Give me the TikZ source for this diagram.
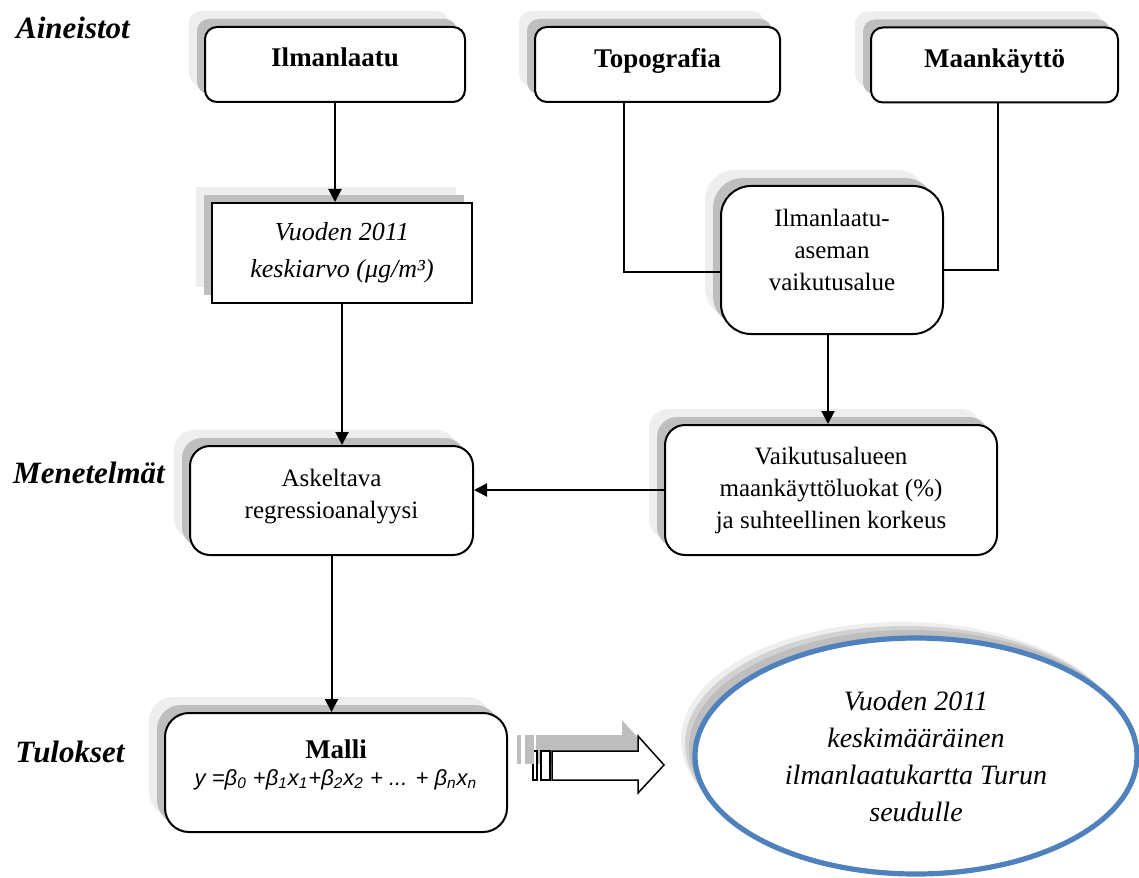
\documentclass[tikz,border=0pt]{standalone}
\usepackage{fontspec}
\setmainfont{Liberation Serif}
\newfontfamily\kaavafont{Liberation Sans}
\usetikzlibrary{arrows.meta,shapes.geometric,shadows,positioning}

\definecolor{varjotumma}{RGB}{190,190,190}
\definecolor{varjovaalea}{RGB}{238,238,238}
\definecolor{reunasininen}{RGB}{79,129,189}

\tikzset{
  varjot/.style={general shadow={fill=varjovaalea, shadow xshift=-8pt, shadow yshift=8pt},
                 general shadow={fill=varjotumma, shadow xshift=-4pt, shadow yshift=4pt}},
  laatikko/.style={draw, line width=1pt, fill=white, align=center, varjot,
                   font=\fontsize{12.5}{16}\selectfont},
  ylaosa/.style={laatikko, rounded corners=6pt, minimum height=37.5pt, text depth=7pt,
                 font=\fontsize{13.5}{16}\selectfont\bfseries},
  otsikko/.style={font=\fontsize{15.5}{18}\selectfont\bfseries\itshape},
  kartta/.style={ellipse, draw=reunasininen, line width=2.6pt, fill=white, align=center,
                 minimum width=221pt, minimum height=118pt,
                 general shadow={fill=varjovaalea, shadow xshift=-7pt, shadow yshift=8pt},
                 general shadow={fill=black!18, shadow xshift=-5pt, shadow yshift=6pt},
                 general shadow={fill=varjotumma, shadow xshift=-3pt, shadow yshift=4pt},
                 font=\fontsize{14}{18.5}\selectfont\itshape},
  viiva/.style={line width=1pt},
  pijlviiva/.style={line width=0.75pt, fill=white,
                    general shadow={fill=varjotumma, shadow xshift=-8pt, shadow yshift=8pt}}
}

\begin{document}
\begin{tikzpicture}[x=0.5pt, y=-0.5pt, >={Triangle[length=6.5pt,width=6.5pt]}]
  \useasboundingbox (0,0) rectangle (1139,877);
  % vaiheet
  \node[otsikko] (aineistot) at (73,28) {Aineistot};
  \node[otsikko] (menetelmat) at (89,473) {Menetelmät};
  \node[otsikko] (tulokset) at (70,752) {Tulokset};
  % aineistot
  \node[ylaosa, minimum width=130pt] (ilma) at (335,64.5) {Ilmanlaatu};
  \node[ylaosa, minimum width=122.5pt] (topo) at (657.5,64.5) {Topografia};
  \node[ylaosa, minimum width=123.5pt] (maan) at (994.5,65) {Maankäyttö};
  % valivaiheet
  \node[laatikko, minimum width=130pt, minimum height=50pt,
        font=\fontsize{13}{18.5}\selectfont\itshape] (vuosi) at (342,253)
        {Vuoden 2011\\keskiarvo (μg/m³)};
  \node[laatikko, rounded corners=15pt, minimum width=111pt, minimum height=74pt,
        text depth=10pt] (alue) at (832,260) {Ilmanlaatu-\\aseman\\vaikutusalue};
  \node[laatikko, rounded corners=10pt, minimum width=166pt, minimum height=65pt] (luokat)
        at (831,490) {Vaikutusalueen\\maankäyttöluokat (\%)\\ja suhteellinen korkeus};
  \node[laatikko, rounded corners=10pt, minimum width=141.5pt, minimum height=54.5pt,
        text depth=7pt] (askel) at (331.5,500.5) {Askeltava\\regressioanalyysi};
  % tulokset
  \node[laatikko, rounded corners=12pt, minimum width=171pt, minimum height=59.5pt,
        text depth=10pt, font=\fontsize{12.5}{13.5}\selectfont] (malli) at (336,772.5)
        {\textbf{\fontsize{13.5}{13.5}\selectfont Malli}\\
        {\kaavafont\itshape\fontsize{11}{13.5}\selectfont y =β\textsubscript{0} +β\textsubscript{1}x\textsubscript{1}+β\textsubscript{2}x\textsubscript{2} + ... + β\textsubscript{n}x\textsubscript{n}}};
  \node[kartta] (kartta) at (916,756)
        {Vuoden 2011\\keskimääräinen\\ilmanlaatukartta Turun\\seudulle};
  % nuolet
  \draw[viiva,->] (ilma.south) -- (ilma.south |- vuosi.north);
  \draw[viiva,->] (vuosi.south) -- (vuosi.south |- askel.north);
  \draw[viiva] ([xshift=-17pt]topo.south) |- ([yshift=-6pt]alue.west);
  \draw[viiva] ([xshift=1.5pt]maan.south) |- ([yshift=-5pt]alue.east);
  \draw[viiva,->] ([xshift=-2pt]alue.south) -- ([xshift=-2pt]alue.south |- luokat.north);
  \draw[viiva,->] (luokat.west) -- (luokat.west -| askel.east);
  \draw[viiva,->] (askel.south) -- (askel.south |- malli.north);
  % iso nuoli
  \coordinate (pijl) at (552,765);
  \draw[pijlviiva]
    (pijl) ++(0,-14) -- ++(86,0) -- ++(0,-15) -- ++(26,29) -- ++(-26,28) -- ++(0,-13)
    -- ++(-86,0) -- cycle;
  \draw[pijlviiva] ([xshift=-9.5pt,yshift=7pt]pijl) rectangle ([xshift=-7.5pt,yshift=-7.5pt]pijl);
  \draw[pijlviiva] ([xshift=-5.5pt,yshift=7pt]pijl) rectangle ([xshift=-1pt,yshift=-7.5pt]pijl);
\end{tikzpicture}
\end{document}
